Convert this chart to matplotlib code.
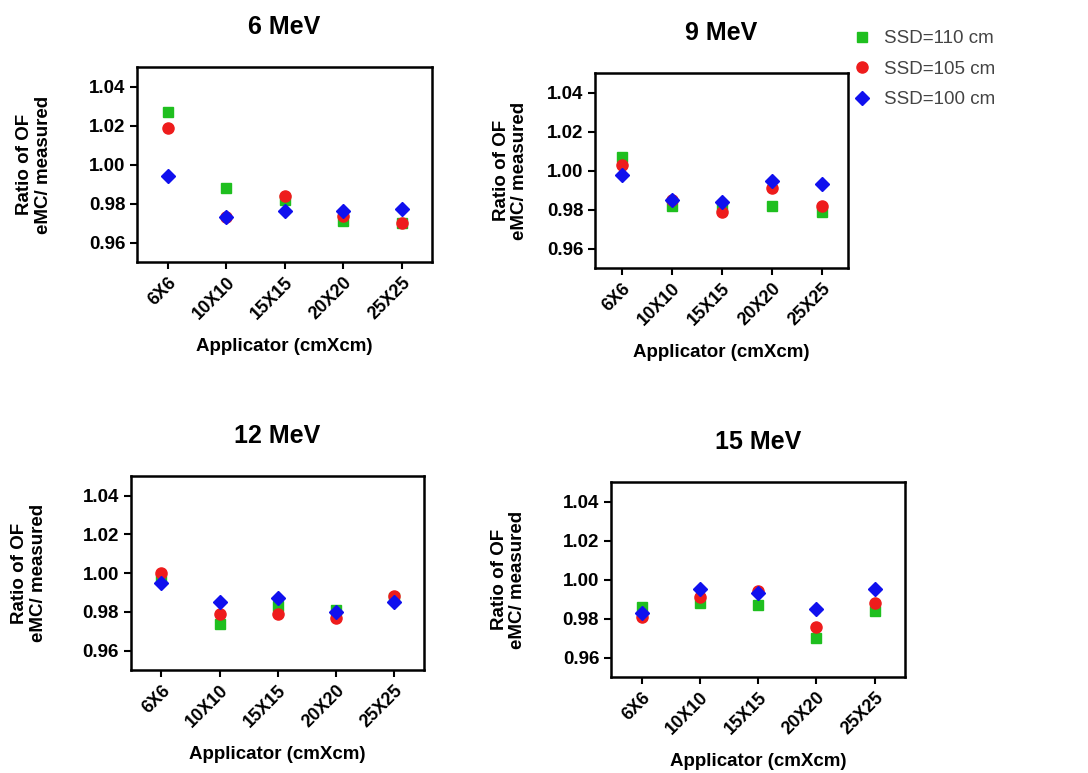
import matplotlib
matplotlib.use('Agg')
import matplotlib.pyplot as plt

plt.rcParams['font.family'] = ['Liberation Sans', 'DejaVu Sans']

# applicator sizes on the x axis
applicators = ['6X6', '10X10', '15X15', '20X20', '25X25']

# ratio of OF (eMC / measured)
ssd110_6 = [1.027, 0.988, 0.982, 0.971, 0.970]
ssd105_6 = [1.019, 0.973, 0.984, 0.9735, 0.970]
ssd100_6 = [0.994, 0.973, 0.976, 0.976, 0.977]

ssd110_9 = [1.007, 0.982, 0.982, 0.982, 0.979]
ssd105_9 = [1.003, 0.985, 0.979, 0.991, 0.982]
ssd100_9 = [0.998, 0.985, 0.984, 0.995, 0.993]

ssd110_12 = [0.997, 0.974, 0.983, 0.981, 0.987]
ssd105_12 = [1.000, 0.979, 0.979, 0.977, 0.988]
ssd100_12 = [0.995, 0.985, 0.987, 0.980, 0.985]

ssd110_15 = [0.986, 0.988, 0.987, 0.970, 0.984]
ssd105_15 = [0.981, 0.991, 0.994, 0.976, 0.988]
ssd100_15 = [0.983, 0.995, 0.993, 0.985, 0.995]

titles = ['6 MeV', '9 MeV', '12 MeV', '15 MeV']
series = [(ssd110_6, ssd105_6, ssd100_6),
          (ssd110_9, ssd105_9, ssd100_9),
          (ssd110_12, ssd105_12, ssd100_12),
          (ssd110_15, ssd105_15, ssd100_15)]
labels = ['SSD=110 cm', 'SSD=105 cm', 'SSD=100 cm']

# axes boxes in figure fraction [left, bottom, width, height]
boxes = [[0.126, 0.661, 0.271, 0.252],
         [0.547, 0.653, 0.2325, 0.252],
         [0.120, 0.133, 0.270, 0.251],
         [0.5616, 0.124, 0.270, 0.252]]
ylab_x = [-0.29, -0.265, -0.286, -0.29]

fig = plt.figure(figsize=(10.88, 7.73), dpi=100)

for i in range(4):
    ax = fig.add_axes(boxes[i])
    g, r, b = series[i]
    x = range(len(applicators))
    ax.plot(x, g, 's', color='#1fbf1f', markersize=6.5, linestyle='none', label=labels[0])
    ax.plot(x, r, 'o', color='#ee1c1c', markersize=8, linestyle='none', label=labels[1])
    ax.plot(x, b, 'D', color='#1010ee', markersize=7, linestyle='none', label=labels[2])

    ax.set_xlim(-0.53, 4.52)
    ax.set_ylim(0.95, 1.05)
    ax.set_yticks([0.96, 0.98, 1.00, 1.02, 1.04])
    ax.set_yticklabels(['%.2f' % v for v in [0.96, 0.98, 1.00, 1.02, 1.04]],
                       fontweight='bold', fontsize=13.5)
    ax.set_xticks(list(x))
    ax.set_xticklabels(applicators, rotation=45, ha='right', rotation_mode='anchor',
                       fontweight='bold', fontsize=13)
    ax.tick_params(direction='out', length=5, width=1.5, color='black')
    for s in ax.spines.values():
        s.set_linewidth(1.8)

    ax.set_title(titles[i], fontsize=18, fontweight='bold', pad=24)
    ax.set_ylabel('Ratio of OF\neMC/ measured', fontsize=13.5, fontweight='bold',
                  linespacing=1.1)
    ax.yaxis.set_label_coords(ylab_x[i], 0.5)
    ax.set_xlabel('Applicator (cmXcm)', fontsize=13.5, fontweight='bold')
    ax.xaxis.set_label_coords(0.5, -0.39)

    if i == 1:
        handles, labs = ax.get_legend_handles_labels()

leg = fig.legend(handles, labs, loc='upper left', bbox_to_anchor=(0.766, 0.983),
                 frameon=False, fontsize=13.5, handletextpad=0.6, labelspacing=0.72,
                 handlelength=1.2)
for t in leg.get_texts():
    t.set_color('#444444')

fig.savefig('out.png', dpi=100)
